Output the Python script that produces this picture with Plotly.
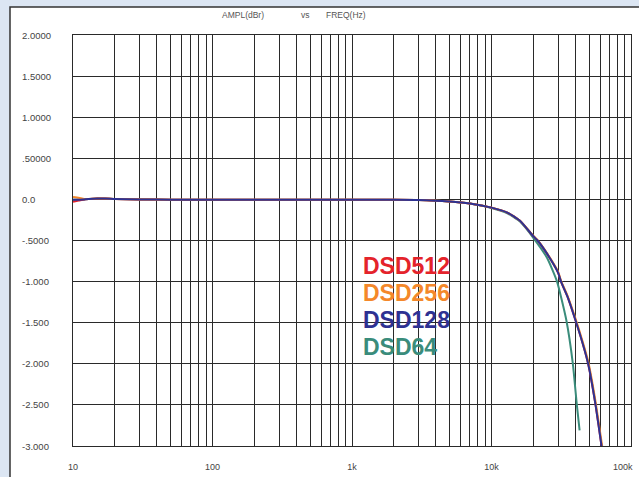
import plotly.graph_objects as go

# ---- data ----
freq_main = [10, 11, 12, 13, 15, 17, 20, 30, 50, 100, 200, 500, 1000, 2000, 3000,
             5000, 7000, 10000, 13000, 16000, 20000, 21400, 25000, 30000, 31500, 35000,
             40000, 45000, 49300, 55700, 61500, 62500]
dsd512 = [-0.03, -0.015, 0.0, 0.005, 0.01, 0.01, 0.005, 0.0, -0.003, -0.003, -0.003, -0.003,
          -0.003, -0.003, -0.006, -0.025, -0.05, -0.10, -0.16, -0.26, -0.45, -0.50, -0.66,
          -0.89, -1.00, -1.18, -1.47, -1.75, -2.00, -2.50, -3.00, -3.08]
dsd256 = [0.03, 0.02, 0.005, 0.005, 0.01, 0.01, 0.005, 0.0, -0.003, -0.003, -0.003, -0.003,
          -0.003, -0.003, -0.006, -0.025, -0.05, -0.10, -0.16, -0.26, -0.445, -0.495, -0.655,
          -0.88, -0.99, -1.17, -1.45, -1.73, -1.97, -2.46, -2.95, -3.03]
dsd128 = [-0.005, -0.005, 0.0, 0.005, 0.01, 0.01, 0.005, 0.0, -0.003, -0.003, -0.003, -0.003,
          -0.003, -0.003, -0.006, -0.025, -0.05, -0.10, -0.16, -0.26, -0.45, -0.50, -0.66,
          -0.89, -1.00, -1.18, -1.47, -1.75, -2.00, -2.50, -3.00, -3.08]
freq_64 = [10, 12, 15, 20, 50, 100, 1000, 3000, 5000, 7000, 10000, 13000, 16000, 20000,
           25000, 29500, 34400, 38300, 40900, 42800]
dsd64 = [-0.005, 0.0, 0.01, 0.005, -0.003, -0.003, -0.003, -0.006, -0.025, -0.05, -0.105,
         -0.17, -0.27, -0.47, -0.71, -1.00, -1.47, -2.00, -2.50, -2.81]

series = [("DSD64", freq_64, dsd64, "#3a8c7b"),
          ("DSD512", freq_main, dsd512, "#e4232b"),
          ("DSD256", freq_main, dsd256, "#f4882a"),
          ("DSD128", freq_main, dsd128, "#2e3192")]

legend_order = [("DSD512", "#e4232b"), ("DSD256", "#f4882a"),
                ("DSD128", "#2e3192"), ("DSD64", "#3a8c7b")]

y_ticks = [2.0, 1.5, 1.0, 0.5, 0.0, -0.5, -1.0, -1.5, -2.0, -2.5, -3.0]
y_labels = ["2.0000", "1.5000", "1.0000", ".50000", "0.0", "-.5000", "-1.000",
            "-1.500", "-2.000", "-2.500", "-3.000"]
x_grid = [m * 10 ** d for d in range(1, 5) for m in range(1, 10)] + [100000]
x_label_map = {10: "10", 100: "100", 1000: "1k", 10000: "10k"}
x_last_label = "100k"

fig = go.Figure()
for name, f, v, c in series:
    fig.add_trace(go.Scatter(x=f, y=v, mode="lines", name=name,
                             line=dict(color=c, width=2, shape="spline", smoothing=0.5),
                             showlegend=False))

W, H = 639, 477
ml, mr, mt, mb = 73, 8, 35, 31
pw, ph = W - ml - mr, H - mt - mb

def px(x):
    return (x - ml) / pw

def py(y):
    return (H - mb - y) / ph

fig.update_layout(
    width=W, height=H,
    margin=dict(l=ml, r=mr, t=mt, b=mb, autoexpand=False),
    paper_bgcolor="#dce6f3",
    plot_bgcolor="white",
    font=dict(family="Liberation Sans", color="#444"),
)

# white panel with dark border
fig.add_shape(type="rect", xref="paper", yref="paper", layer="below",
              x0=px(10), x1=px(660), y0=py(500), y1=py(7),
              fillcolor="white", line=dict(color="#333", width=1.5))

fig.update_xaxes(type="log", range=[1, 5], tickvals=x_grid,
                 ticktext=[x_label_map.get(v, "") for v in x_grid],
                 showgrid=True, gridcolor="#2a2a2a", gridwidth=1,
                 showline=True, linecolor="#2a2a2a", linewidth=1, mirror=True,
                 ticks="", tickfont=dict(size=9, color="#444"),
                 ticklabelstandoff=12, zeroline=False, automargin=False)
fig.update_yaxes(range=[-3.0, 2.0], tickvals=y_ticks, showticklabels=False,
                 showgrid=True, gridcolor="#2a2a2a", gridwidth=1,
                 showline=True, linecolor="#2a2a2a", linewidth=1, mirror=True,
                 ticks="", zeroline=False, automargin=False)

# last x label (placed as text so it is not dropped at the edge)
fig.add_annotation(xref="paper", yref="paper", x=px(635), y=py(467), text=x_last_label,
                   xanchor="right", yanchor="middle", showarrow=False,
                   font=dict(size=9, color="#444"))

for v, t in zip(y_ticks, y_labels):
    fig.add_annotation(xref="paper", yref="y", x=px(20), y=v, text=t,
                       xanchor="left", yanchor="middle", showarrow=False,
                       font=dict(size=9.5, color="#444"))

for t, x in [("AMPL(dBr)", 220), ("vs", 299), ("FREQ(Hz)", 324)]:
    fig.add_annotation(xref="paper", yref="paper", x=px(x), y=py(15), text=t,
                       xanchor="left", yanchor="middle", showarrow=False,
                       font=dict(size=8.5, color="#555"))

for i, (name, c) in enumerate(legend_order):
    fig.add_annotation(xref="paper", yref="paper", x=px(361), y=py(266 + i * 27),
                       text="<b>%s</b>" % name, xanchor="left", yanchor="middle",
                       showarrow=False,
                       font=dict(size=23, color=c, family="Liberation Sans"))

fig.write_html("out.html",
               config={"displayModeBar": False},
               post_script="document.body.style.margin='0';"
                           "document.body.style.overflow='hidden';")
